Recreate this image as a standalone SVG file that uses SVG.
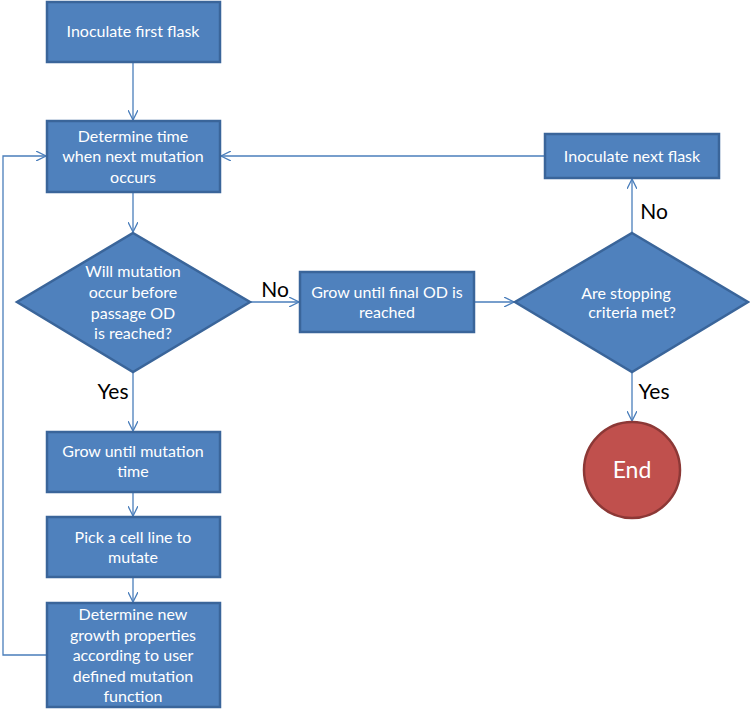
<svg xmlns="http://www.w3.org/2000/svg" width="750" height="709" viewBox="0 0 750 709">
<style>
.n{fill:#4F81BD;stroke:#3A659A;stroke-width:2.5}
.e{fill:#C0504D;stroke:#8C3836;stroke-width:2.5}
.t{fill:#fff;font-family:Lato,"Open Sans",sans-serif;font-size:16px;text-anchor:middle}
.l{fill:#000;font-family:Lato,"Open Sans",sans-serif;font-size:21px;text-anchor:middle}
.c{fill:none;stroke:#4A7EBB;stroke-width:1.3}
</style>
<defs>
<marker id="a" viewBox="0 0 10 10" refX="10" refY="5" markerWidth="10" markerHeight="10" markerUnits="userSpaceOnUse" orient="auto">
<path d="M0,0 L10,5 L0,10" fill="none" stroke="#4A7EBB" stroke-width="1.3"/>
</marker>
</defs>
<g id="connectors">
<path class="c" d="M133,62 V120" marker-end="url(#a)"/>
<path class="c" d="M133,192 V232" marker-end="url(#a)"/>
<path class="c" d="M250,302 H299" marker-end="url(#a)"/>
<path class="c" d="M474,302 H514" marker-end="url(#a)"/>
<path class="c" d="M632,233 V179" marker-end="url(#a)"/>
<path class="c" d="M545,156 H221" marker-end="url(#a)"/>
<path class="c" d="M632,372 V421" marker-end="url(#a)"/>
<path class="c" d="M133,372 V431" marker-end="url(#a)"/>
<path class="c" d="M133,492 V516" marker-end="url(#a)"/>
<path class="c" d="M133,577 V602" marker-end="url(#a)"/>
<path class="c" d="M47,655 H3 V156 H46" marker-end="url(#a)"/>
<text class="l" x="275" y="297">No</text>
<text class="l" x="113" y="399">Yes</text>
<text class="l" x="654" y="219">No</text>
<text class="l" x="654" y="399">Yes</text>
</g>
<g id="inoculate-first">
<rect class="n" x="47" y="2" width="173" height="60"/>
<text class="t" x="133" y="37">Inoculate first flask</text>
</g>
<g id="determine-time">
<rect class="n" x="47" y="121" width="173" height="71"/>
<text class="t" x="133" y="142">Determine time</text>
<text class="t" x="133" y="162">when next mutation</text>
<text class="t" x="133" y="183">occurs</text>
</g>
<g id="will-mutation">
<polygon class="n" points="133,233 250,302 133,372 17,302"/>
<text class="t" x="133" y="277">Will mutation</text>
<text class="t" x="133" y="298">occur before</text>
<text class="t" x="133" y="319">passage OD</text>
<text class="t" x="133" y="339">is reached?</text>
</g>
<g id="grow-final">
<rect class="n" x="300" y="272" width="174" height="60"/>
<text class="t" x="387" y="298">Grow until final OD is</text>
<text class="t" x="387" y="318">reached</text>
</g>
<g id="stopping">
<polygon class="n" points="632,233 748,302 632,372 515,302"/>
<text class="t" x="626" y="299">Are stopping</text>
<text class="t" x="632" y="318">criteria met?</text>
</g>
<g id="inoculate-next">
<rect class="n" x="545" y="134" width="174" height="44"/>
<text class="t" x="632" y="162">Inoculate next flask</text>
</g>
<g id="end">
<circle class="e" cx="632" cy="470" r="48"/>
<text class="t" x="632" y="478" style="font-size:23px">End</text>
</g>
<g id="grow-mutation">
<rect class="n" x="47" y="432" width="173" height="60"/>
<text class="t" x="133" y="457">Grow until mutation</text>
<text class="t" x="133" y="477">time</text>
</g>
<g id="pick-cell">
<rect class="n" x="47" y="517" width="173" height="60"/>
<text class="t" x="133" y="543">Pick a cell line to</text>
<text class="t" x="133" y="563">mutate</text>
</g>
<g id="determine-growth">
<rect class="n" x="47" y="603" width="173" height="104"/>
<text class="t" x="133" y="620">Determine new</text>
<text class="t" x="133" y="641">growth properties</text>
<text class="t" x="133" y="661">according to user</text>
<text class="t" x="133" y="682">defined mutation</text>
<text class="t" x="133" y="702">function</text>
</g>
</svg>
